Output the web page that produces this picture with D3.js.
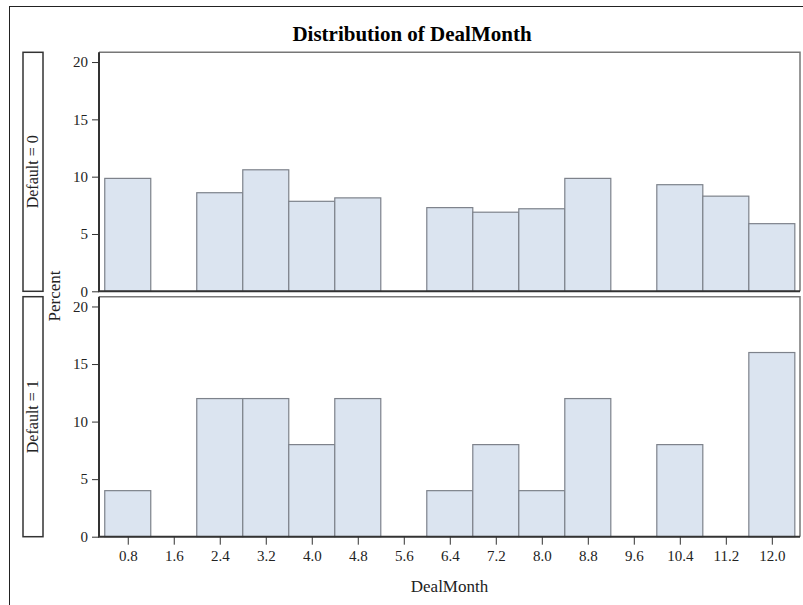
<!DOCTYPE html>
<html>
<head>
<meta charset="utf-8">
<script src="https://cdn.jsdelivr.net/npm/d3@7"></script>
<style>
  body { margin: 0; background: #fff; }
  text { font-family: "Liberation Serif", "Times New Roman", serif; fill: #222; }
</style>
</head>
<body>
<div id="chart"></div>
<script>
// ビンの中心 (DealMonth)
const binMids = [0.8, 1.6, 2.4, 3.2, 4.0, 4.8, 5.6, 6.4, 7.2, 8.0, 8.8, 9.6, 10.4, 11.2, 12.0];
const binWidth = 0.8;
// Default = 0 のパーセント
const pctDefault0 = [9.85, 0, 8.6, 10.6, 7.85, 8.15, 0, 7.3, 6.9, 7.2, 9.85, 0, 9.3, 8.3, 5.9];
// Default = 1 のパーセント
const pctDefault1 = [4, 0, 12, 12, 8, 12, 0, 4, 8, 4, 12, 0, 8, 0, 16];
const yTicks = [0, 5, 10, 15, 20];
const panelLabels = ['Default = 0', 'Default = 1'];

const width = 803, height = 605;
const left = 99, right = 800;
const panels = [
  { label: panelLabels[0], values: pctDefault0, top: 52.3, bottom: 291.3 },
  { label: panelLabels[1], values: pctDefault1, top: 296.7, bottom: 536.7 }
];

const svg = d3.select('#chart')
  .append('svg')
  .attr('width', width)
  .attr('height', height);

// 外枠
svg.append('rect')
  .attr('x', 9.5).attr('y', 6.5)
  .attr('width', 800).attr('height', 610)
  .attr('fill', 'none')
  .attr('stroke', '#222')
  .attr('stroke-width', 1);

// タイトル
svg.append('text')
  .attr('x', 412).attr('y', 41)
  .attr('text-anchor', 'middle')
  .style('font-size', '21px')
  .style('font-weight', 'bold')
  .style('fill', '#000')
  .text('Distribution of DealMonth');

const x = d3.scaleLinear().domain([0.3, 12.49]).range([left, right]);

// 軸の見た目をそろえる
function styleAxis(axisG) {
  axisG.attr('font-family', null).attr('font-size', null);
  axisG.select('.domain').remove();
  axisG.selectAll('.tick line').attr('stroke', '#333');
  axisG.selectAll('.tick text')
    .style('font-size', '15px')
    .style('font-family', '"Liberation Serif", "Times New Roman", serif')
    .attr('fill', '#222');
}

panels.forEach((p, i) => {
  const y = d3.scaleLinear().domain([0, 20.85]).range([p.bottom, p.top]);
  const g = svg.append('g');

  // 壁 (上と右はグレー)
  g.append('path')
    .attr('d', `M${left},${p.top}H${right}V${p.bottom}`)
    .attr('fill', 'none')
    .attr('stroke', '#777')
    .attr('stroke-width', 1.5);

  // バー
  g.selectAll('rect.bar')
    .data(binMids.map((m, j) => ({ mid: m, v: p.values[j] })).filter(d => d.v > 0))
    .enter()
    .append('rect')
    .attr('class', 'bar')
    .attr('x', d => x(d.mid - binWidth / 2))
    .attr('y', d => y(d.v))
    .attr('width', d => x(d.mid + binWidth / 2) - x(d.mid - binWidth / 2))
    .attr('height', d => y(0) - y(d.v))
    .attr('fill', '#dbe4f0')
    .attr('stroke', '#7d828b')
    .attr('stroke-width', 1.2);

  // Y軸
  const yAxis = g.append('g')
    .attr('transform', `translate(${left},0)`)
    .call(d3.axisLeft(y).tickValues(yTicks).tickSize(7).tickPadding(4).tickFormat(d3.format('d')));
  styleAxis(yAxis);

  // 軸線 (左と下)
  g.append('path')
    .attr('d', `M${left},${p.top}V${p.bottom}H${right}`)
    .attr('fill', 'none')
    .attr('stroke', '#333')
    .attr('stroke-width', 2);

  // ストリップラベル
  g.append('rect')
    .attr('x', 23).attr('y', p.top)
    .attr('width', 20).attr('height', p.bottom - p.top)
    .attr('fill', '#fff')
    .attr('stroke', '#333')
    .attr('stroke-width', 1.5);
  g.append('text')
    .attr('transform', `translate(38,${(p.top + p.bottom) / 2}) rotate(-90)`)
    .attr('text-anchor', 'middle')
    .style('font-size', '16px')
    .text(p.label);

  // X軸 (下のパネルのみ)
  if (i === panels.length - 1) {
    const xAxis = g.append('g')
      .attr('transform', `translate(0,${p.bottom})`)
      .call(d3.axisBottom(x).tickValues(binMids).tickSize(8).tickPadding(6).tickFormat(d3.format('.1f')));
    styleAxis(xAxis);
  }
});

// 軸タイトル
svg.append('text')
  .attr('transform', 'translate(60,296) rotate(-90)')
  .attr('text-anchor', 'middle')
  .style('font-size', '17px')
  .text('Percent');

svg.append('text')
  .attr('x', (left + right) / 2).attr('y', 592)
  .attr('text-anchor', 'middle')
  .style('font-size', '17px')
  .text('DealMonth');
</script>
</body>
</html>
